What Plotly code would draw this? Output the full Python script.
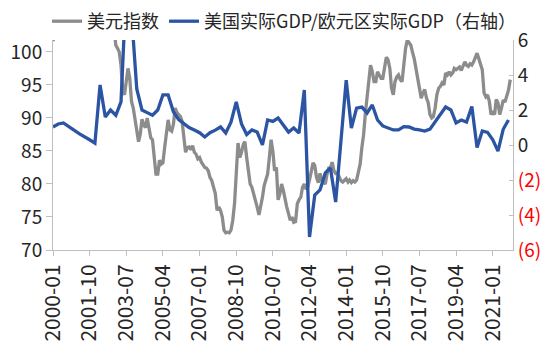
import plotly.graph_objects as go
import pandas as pd

# ---- data ----
dxy_2000 = [101.6, 104, 106, 107, 110, 107, 108, 111, 114, 116, 117, 112]
dxy_2001 = [110, 112, 115, 116, 118, 119.5, 119, 114, 114, 116.5, 117, 117.5]
dxy_2002 = [119.5, 119.5, 118.5, 116.5, 112.5, 108.5, 106.5, 107.5, 107.5, 107.5, 106, 104]
dxy_2003 = [101, 100.5, 100, 98, 94, 93.5, 95.5, 97.5, 96, 92.5, 91.5, 90]
dxy_2004 = [88.5, 86.4, 87.5, 89.8, 89, 88.5, 90, 88.5, 87, 86.7, 84, 81.5]
dxy_2005 = [81.5, 83.6, 83, 83.2, 85.5, 87.5, 89.7, 88.2, 88, 89, 91.5, 90.8]
dxy_2006 = [90.5, 90.2, 89.5, 87, 84.8, 85.5, 85.6, 85.2, 85.8, 84.8, 84.5, 83.8]
dxy_2007 = [84, 83.3, 83, 82.5, 82.4, 82, 81, 80.5, 79.5, 78.6, 76, 76.5]
dxy_2008 = [76, 75, 73, 72.6, 72.7, 72.6, 73, 74.5, 77, 82, 86.2, 84]
dxy_2009 = [84.8, 86, 86.4, 84, 81.5, 80, 79.5, 78.5, 77.9, 76.5, 75.3, 76.5]
dxy_2010 = [78, 79.8, 80.6, 81.5, 84, 86.7, 85, 82, 82.5, 77.6, 78.5, 80]
dxy_2011 = [79, 77.5, 76.5, 75.5, 74.5, 75, 74.2, 74.3, 77, 77.6, 78, 79.5]
dxy_2012 = [80, 79.2, 79.5, 80.6, 82, 83.2, 82.8, 81, 80.2, 81.6, 80.5, 80.2]
dxy_2013 = [80, 81.5, 82.4, 82.5, 83.3, 82, 81.6, 81.7, 81, 80.5, 80.3, 80.6]
dxy_2014 = [80.8, 80.3, 80.6, 80.2, 80.5, 80.3, 80.6, 81.8, 83, 85.5, 87.5, 90.7]
dxy_2015 = [93.5, 95.5, 98, 97, 95.5, 95.5, 97, 96.5, 96, 96, 98, 99.2]
dxy_2016 = [98.8, 97.5, 94.5, 93.5, 95.5, 96.2, 96.5, 95.8, 95.5, 98.5, 100.5, 101.8]
dxy_2017 = [101.3, 101, 100, 99, 97.5, 96, 95, 93, 93.8, 94.3, 93, 92.3]
dxy_2018 = [90.5, 90, 90.2, 91.5, 93.5, 94.5, 94.8, 95.3, 95, 96.8, 96.5, 97]
dxy_2019 = [96.5, 96.8, 97.5, 97.3, 97.5, 97.7, 97.2, 98, 98.5, 98, 97.8, 98.2]
dxy_2020 = [98, 98.5, 99.2, 99.8, 99, 98, 97.3, 93.8, 93.2, 93.5, 92.5, 90.5]
dxy_2021 = [91, 90.5, 92.8, 92.3, 90.5, 91.5, 92.7, 92.4, 93.2, 94.2, 95.8]

dollar_index = (dxy_2000 + dxy_2001 + dxy_2002 + dxy_2003 + dxy_2004 + dxy_2005 +
                dxy_2006 + dxy_2007 + dxy_2008 + dxy_2009 + dxy_2010 + dxy_2011 +
                dxy_2012 + dxy_2013 + dxy_2014 + dxy_2015 + dxy_2016 + dxy_2017 +
                dxy_2018 + dxy_2019 + dxy_2020 + dxy_2021)

# quarterly US / Euro area real GDP series (right axis)
gdp_ratio = [1.03, 1.2, 1.26, 1.03, 0.85, 0.65, 0.45, 0.3,
             0.11, 3.43, 1.6, 2.0, 1.7, 2.46, 9.0, 7.5,
             3.2, 2.0, 1.85, 1.7, 2.0, 2.86, 2.86, 1.9,
             1.45, 1.2, 1.0, 0.86, 0.7, 0.46, 0.7, 0.85,
             1.03, 0.69, 1.3, 2.46, 1.2, 0.6, 0.86, 0.74,
             0.0, 1.43, 1.35, 1.54, 1.14, 0.74, 0.97, 0.69,
             3.14, -5.26, -2.86, -2.57, -1.6, -1.31, -3.26, 0.11,
             3.71, 0.97, 2.11, 2.17, 1.83, 2.29, 1.43, 1.09,
             0.97, 0.86, 0.86, 1.05, 1.03, 0.91, 0.86, 0.8,
             0.91, 1.3, 1.71, 2.17, 2.0, 1.26, 1.43, 1.31,
             2.2, -0.15, 0.8, 0.72, 0.3, -0.35, 0.9, 1.43]

tick_labels = ["2000-01", "2001-10", "2003-07", "2005-04", "2007-01", "2008-10",
               "2010-07", "2012-04", "2014-01", "2015-10", "2017-07", "2019-04", "2021-01"]

left_ticks = [70, 75, 80, 85, 90, 95, 100]
right_ticks = [-6, -4, -2, 0, 2, 4, 6]
right_labels = ["(6)", "(4)", "(2)", "0", "2", "4", "6"]

# ---- build ----
month_dates = pd.date_range("2000-01-01", periods=len(dollar_index), freq="MS")
quarter_dates = pd.date_range("2000-01-01", periods=len(gdp_ratio), freq="3MS")
tick_dates = [pd.Timestamp(t + "-01") for t in tick_labels]

right_text = [f'<span style="color:#ff0000">{t}</span>' if t.startswith("(") else t
              for t in right_labels]

FONT = "Noto Sans CJK SC, Noto Sans, sans-serif"
AX = "#bfbfbf"

fig = go.Figure()
fig.add_trace(go.Scatter(x=month_dates, y=dollar_index, name="美元指数",
                         mode="lines", line=dict(color="#8c8c8c", width=3.3)))
fig.add_trace(go.Scatter(x=quarter_dates, y=gdp_ratio, name="美国实际GDP/欧元区实际GDP（右轴）",
                         mode="lines", yaxis="y2", line=dict(color="#2b55a3", width=3.3)))

# page body has an 8px default margin, so the figure is 8px smaller on each axis
fig.update_layout(
    width=546, height=354,
    margin=dict(l=45, r=41, t=32, b=112, autoexpand=False),
    paper_bgcolor="white", plot_bgcolor="white",
    font=dict(family=FONT, size=19, color="#262626"),
    showlegend=True,
    legend=dict(orientation="h", x=-0.013, xanchor="left", y=1.0, yanchor="bottom",
                font=dict(size=18, color="#262626"), itemwidth=30,
                bgcolor="rgba(0,0,0,0)", tracegroupgap=0),
    xaxis=dict(type="date", range=["2000-01-01", "2021-12-19"], automargin=False,
               tickmode="array", tickvals=tick_dates, ticktext=tick_labels,
               tickangle=-90, tickfont=dict(size=21),
               showline=True, linecolor=AX, linewidth=1,
               ticks="outside", ticklen=5, tickcolor=AX,
               showgrid=False, zeroline=False),
    yaxis=dict(range=[70, 101.8], tickmode="array", tickvals=left_ticks, automargin=False,
               showline=True, linecolor=AX, linewidth=1,
               ticks="outside", ticklen=6, tickcolor=AX,
               showgrid=False, zeroline=False, tickfont=dict(size=19)),
    yaxis2=dict(range=[-6, 6], overlaying="y", side="right", anchor="x", automargin=False,
                tickmode="array", tickvals=right_ticks, ticktext=right_text,
                showline=True, linecolor=AX, linewidth=1,
                ticks="inside", ticklen=4, tickcolor=AX,
                showgrid=False, zeroline=False, tickfont=dict(size=19)),
)

fig.write_html("out.html")
